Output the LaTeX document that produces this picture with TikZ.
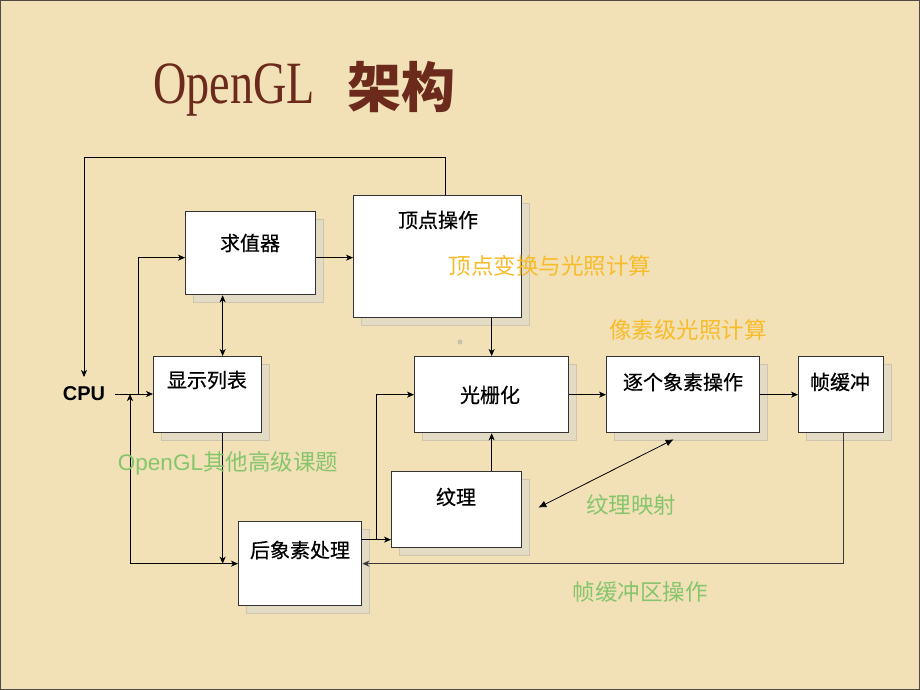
\documentclass[tikz,border=0pt]{standalone}
\usepackage{fontspec}
\setmainfont{Noto Sans CJK SC}
\newfontfamily\latinsans{Liberation Sans}
\newfontfamily\boxfont[FakeBold=0.5]{Noto Sans CJK SC}
\newfontfamily\titlelat[FakeStretch=0.77]{Liberation Serif}
\usetikzlibrary{arrows.meta,shadows,calc}
\definecolor{bgcol}{HTML}{F2E1B7}
\definecolor{framecol}{HTML}{4F4A48}
\definecolor{titlecol}{HTML}{6B2A1C}
\definecolor{boxline}{HTML}{333333}
\definecolor{shadowfill}{HTML}{E4DBC4}
\definecolor{shadowline}{HTML}{CFC5AE}
\definecolor{orangecol}{HTML}{F8BB2A}
\definecolor{greencol}{HTML}{86C56C}
\definecolor{dotcol}{HTML}{C9C0AE}
\definecolor{loopcol}{HTML}{3A3A3A}
\tikzset{
  box/.style={draw=boxline, line width=1.3pt, fill=white, anchor=north west, inner sep=0pt,
    general shadow={fill=shadowfill, draw=shadowline, line width=0.7pt, shadow xshift=8pt, shadow yshift=-8pt}},
  lbl/.style={font=\boxfont\fontsize{20pt}{24pt}\selectfont, inner sep=0pt, text=black},
  note/.style={font=\fontsize{22.5pt}{26pt}\selectfont, inner sep=0pt},
  arr/.style={draw=black, line width=0.8pt, -{Stealth[length=7pt,width=6pt,inset=2pt]}},
  arrb/.style={draw=black, line width=0.8pt, {Stealth[length=7pt,width=6pt,inset=2pt]}-{Stealth[length=7pt,width=6pt,inset=2pt]}},
  maparr/.style={draw=black, line width=0.8pt, {Latex[length=8pt,width=7pt]}-{Latex[length=8pt,width=7pt]}},
  fbarr/.style={draw=loopcol, line width=1.6pt, -{Stealth[length=7pt,width=6pt,inset=2pt]}}
}
\begin{document}
\begin{tikzpicture}[x=1pt,y=-1pt]
\useasboundingbox (0,0) rectangle (920,690);
\fill[bgcol] (0,0) rectangle (920,690);
\draw[framecol, line width=2.5pt] (0,0) rectangle (920,690);

% title
\node[anchor=base, inner sep=0pt, text=titlecol, font=\titlelat\fontsize{60pt}{60pt}\selectfont] (t1) at (234,103) {OpenGL};
\node[anchor=base, inner sep=0pt, text=titlecol, font=\bfseries\fontsize{54pt}{54pt}\selectfont] (t2) at (401,107) {架构};

% boxes
\node[box, minimum width=130pt, minimum height=83pt] (qz) at (185,211) {};
\node[box, minimum width=168pt, minimum height=122pt] (dd) at (353,195) {};
\node[box, minimum width=108pt, minimum height=76pt] (xs) at (153,356) {};
\node[box, minimum width=154pt, minimum height=76pt] (gs) at (414,356) {};
\node[box, minimum width=153pt, minimum height=76pt] (zg) at (606,356) {};
\node[box, minimum width=85pt, minimum height=76pt] (zh) at (798,356) {};
\node[box, minimum width=130pt, minimum height=76pt] (wl) at (391,471) {};
\node[box, minimum width=123pt, minimum height=84pt] (hx) at (238,521) {};

% box texts
\node[lbl] (qzT) at (250,243) {求值器};
\node[lbl] (ddT) at (438,220) {顶点操作};
\node[lbl] (xsT) at (207,380) {显示列表};
\node[lbl] (gsT) at (490,395) {光栅化};
\node[lbl] (zgT) at (683,382) {逐个象素操作};
\node[lbl] (zhT) at (840,382) {帧缓冲};
\node[lbl] (wlT) at (456,497) {纹理};
\node[lbl] (hxT) at (300,550) {后象素处理};
\node[font=\latinsans\bfseries\fontsize{20pt}{24pt}\selectfont, inner sep=0pt] (cpu) at (84,394) {CPU};

% helper coordinates
\coordinate (topL) at (84,157);
\coordinate (cpuTop) at (84,377);
\coordinate (j1) at (138,394);
\coordinate (j2) at (130,394);

% connectors
\draw[arr] ([xshift=8pt]dd.north) |- (topL) -- (cpuTop);
\draw[arr] ([xshift=10pt]cpu.east) -- (cpu.east -| xs.west);
\draw[arr] (j1) |- ([yshift=-4.5pt]qz.west);
\draw[arrb] ([xshift=-28pt]qz.south) -- ([xshift=-28pt]qz.south |- xs.north);
\draw[arr] ([yshift=-4.5pt]qz.east) -- ([yshift=-4.5pt]qz.east -| dd.west);
\draw[arr] (gs.north |- dd.south) -- (gs.north);
\draw[arr] (gs.east) -- (zg.west);
\draw[arr] (zg.east) -- (zh.west);
\draw[arr] (gs.south |- wl.north) -- (gs.south);
\draw[arr] ([yshift=24pt]hx.east) -- ([yshift=24pt]hx.east -| wl.west);
\draw[arr] ([xshift=14pt,yshift=24pt]hx.east) |- (gs.west);
\draw[fbarr] ([xshift=2.5pt]zh.south) |- (hx.east);
\draw[arrb] (j2) |- (hx.west);
\draw[arr] ([xshift=15pt]xs.south) -- ([xshift=15pt]xs.south |- hx.west);
\draw[maparr] ([xshift=16pt,yshift=2pt]wl.east) -- ([xshift=-9.5pt,yshift=-6pt]zg.south);

% small dot
\fill[dotcol] (460,342) circle (2.5pt);

% notes
\node[note, text=orangecol] (n1) at (550,266) {顶点变换与光照计算};
\node[note, text=orangecol] (n2) at (688,330) {像素级光照计算};
\node[note, text=greencol] (n3) at (228,463) {{\latinsans OpenGL}其他高级课题};
\node[note, text=greencol] (n4) at (631,505) {纹理映射};
\node[note, text=greencol] (n5) at (640,592) {帧缓冲区操作};
\end{tikzpicture}
\end{document}
